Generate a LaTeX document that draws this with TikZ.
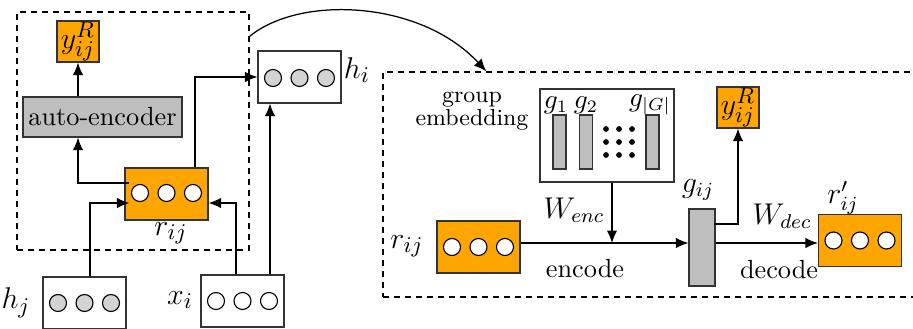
\documentclass[tikz,border=0pt]{standalone}
\usetikzlibrary{calc,arrows.meta}
\definecolor{org}{HTML}{FFA500}
\definecolor{cgray}{HTML}{D3D3D3}
\definecolor{bgray}{HTML}{BEBEBE}
\definecolor{edgec}{HTML}{333333}
\begin{document}
\begin{tikzpicture}[x=0.4pt,y=-0.4pt, font=\fontsize{10.5}{12}\selectfont,
 box/.style={draw=edgec, line width=0.5pt, inner sep=0pt, rectangle},
 vecbox/.style={box, minimum width=33.2pt, minimum height=20.8pt},
 orangebox/.style={vecbox, fill=org},
 circ/.style={circle, draw=black, line width=0.45pt, inner sep=0pt, minimum size=6.8pt},
 graycirc/.style={circ, fill=cgray},
 whitecirc/.style={circ, fill=white},
 dbox/.style={draw, dash pattern=on 2.4pt off 2pt, line width=0.55pt, inner sep=0pt, rectangle},
 arr/.style={-{Latex[length=5pt,width=4.2pt]}, line width=0.5pt},
 lab/.style={inner sep=0pt},
 mlab/.style={inner sep=0pt, font=\fontsize{12.5}{14}\selectfont},
 wlab/.style={inner sep=0pt, font=\fontsize{11.5}{13}\selectfont},
 dotn/.style={circle, fill=black, inner sep=0pt, minimum size=2.3pt},
 bar/.style={box, fill=bgray, minimum width=5.2pt, minimum height=21.6pt},
 ybox/.style={box, fill=org, minimum width=16.8pt, minimum height=16.4pt, font=\fontsize{12.5}{14}\selectfont}
]
\clip (0,0) rectangle (913,328);
% ---------- left part ----------
\node[dbox, minimum width=92.8pt, minimum height=95.2pt] (lbox) at (133,131) {};
\node[ybox] (yA) at (78,41.5) {$y^R_{ij}$};
\node[box, fill=bgray, minimum width=63.6pt, minimum height=16pt] (ae) at (102.5,117) {auto-encoder};
\node[orangebox] (rL) at (166.5,194) {};
\foreach \i/\dx in {1/-26.5,2/0,3/26.5} \node[whitecirc] (rLc\i) at ($(rL)+(\dx,-1)$) {};
\node[mlab, anchor=north] (rLl) at (171,222) {$r_{ij}$};
\node[vecbox] (hj) at (84.5,303) {};
\foreach \i/\dx in {1/-26.5,2/0,3/26.5} \node[graycirc] (hjc\i) at ($(hj)+(\dx,0)$) {};
\node[mlab] (hjl) at (16,303) {$h_j$};
\node[vecbox] (xi) at (242.5,301) {};
\foreach \i/\dx in {1/-26.5,2/0,3/26.5} \node[whitecirc] (xic\i) at ($(xi)+(\dx,0)$) {};
\node[mlab] (xil) at (180,300) {$x_i$};
\node[vecbox] (hi) at (299.5,77) {};
\foreach \i/\dx in {1/-26.5,2/0,3/26.5} \node[graycirc] (hic\i) at ($(hi)+(\dx,1)$) {};
\node[mlab] (hil) at (357,70) {$h_i$};
\draw[arr] ($(rL.west)+(5,-11)$) -| (ae.south -| yA.south);
\draw[arr] (ae.north -| yA.south) -- (yA.south);
\draw[arr] ($(hj.north)+(5.5,0)$) |- ($(rL.west)+(5,9)$);
\draw[arr] ($(xi.north)+(-6.5,0)$) |- ($(rL.east)+(0,9)$);
\draw[arr] ($(rL.north)+(28.5,0)$) |- (hi.west);
\draw[arr] ($(xi.north)+(27.5,0)$) coordinate (xu) -- (xu |- hi.south);
% ---------- right part ----------
\node[dbox, minimum width=218.8pt, minimum height=90pt] (rbox) at (656.5,184.5) {};
\draw[arr] ($(lbox.north east)+(0,25)$) .. controls (300,-5) and (420,0) .. ($(rbox.north west)+(104,0)$);
\node[lab, align=center, font=\fontsize{9.3}{9}\selectfont] (ge) at (472,111) {group\\embedding};
\node[box, minimum width=53.6pt, minimum height=37.2pt] (grp) at (607,135.5) {};
\node[bar] (g1) at (559.5,142) {};
\node[bar] (g2) at (586,142) {};
\node[bar] (gG) at (652.5,142) {};
\node[lab] (g1l) at (556,105) {$g_1$};
\node[lab] (g2l) at (586,105) {$g_2$};
\node[lab] (gGl) at (650,105) {$g_{|G|}$};
\foreach \xx in {606,619,632} \foreach \yy in {129,142,155} \node[dotn] (d\xx-\yy) at (\xx,\yy) {};
\node[orangebox] (rR) at (478.5,247) {};
\foreach \i/\dx in {1/-26.5,2/0,3/26.5} \node[whitecirc] (rRc\i) at ($(rR)+(\dx,0)$) {};
\node[mlab] (rRl) at (407,246) {$r_{ij}$};
\node[box, fill=bgray, minimum width=10.4pt, minimum height=30.8pt] (gij) at (702,247.5) {};
\node[wlab] (gijl) at (698,190) {$g_{ij}$};
\node[ybox] (yB) at (738,107.5) {$y^R_{ij}$};
\node[orangebox] (rp) at (860,240.5) {};
\foreach \i/\dx in {1/-26.5,2/0,3/26.5} \node[whitecirc] (rpc\i) at ($(rp)+(\dx,0)$) {};
\node[wlab] (rpl) at (843,198) {$r'_{ij}$};
\node[wlab] (wenc) at (574,210) {$W_{enc}$};
\node[wlab] (wdec) at (782,216) {$W_{dec}$};
\node[lab] (encl) at (585,269) {encode};
\node[lab] (decl) at (779,270) {decode};
\coordinate (eline) at (600,243);
\draw[arr] (rR.east |- eline) -- (gij.west |- eline);
\draw[arr] ($(grp.south)+(5,0)$) coordinate (gd) -- (gd |- eline);
\draw[arr] (gij.east |- eline) -- (rp.west |- eline);
\draw[arr] ($(gij.east)+(-2,-23.5)$) -| (yB.south);
\end{tikzpicture}
\end{document}
